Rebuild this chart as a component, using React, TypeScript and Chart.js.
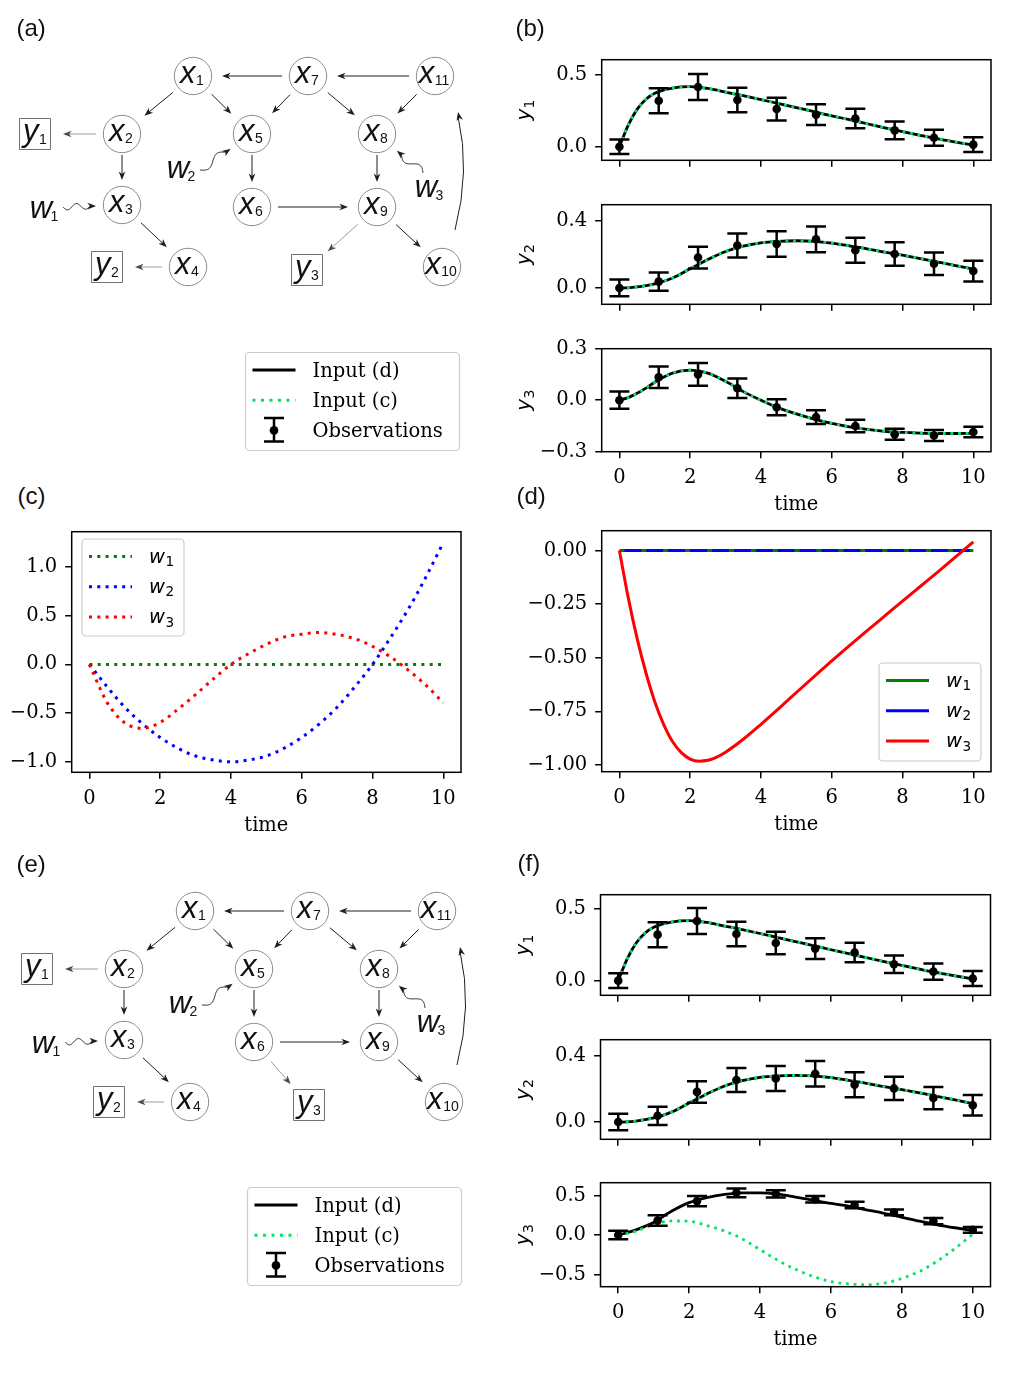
import React, { useEffect, useRef } from 'react';
import { Chart, registerables } from 'chart.js';

Chart.register(...registerables);

/* ---------------- observations and fitted outputs ---------------- */
const obsTime = [0, 1.111, 2.222, 3.333, 4.444, 5.556, 6.667, 7.778, 8.889, 10];
const fitTime = [0, 0.25, 0.5, 0.75, 1, 1.5, 2, 2.5, 3, 3.5, 4, 4.5, 5, 5.5, 6, 6.5, 7, 7.5, 8, 8.5, 9, 9.5, 10];

const y1Obs = [0.0, 0.32, 0.415, 0.325, 0.262, 0.223, 0.196, 0.114, 0.063, 0.015];
const y1Err = [0.051, 0.087, 0.09, 0.085, 0.079, 0.072, 0.068, 0.061, 0.056, 0.052];
const y1Fit = [0, 0.15, 0.26, 0.33, 0.372, 0.408, 0.418, 0.405, 0.38, 0.355, 0.328, 0.3, 0.272, 0.244, 0.215, 0.188, 0.16, 0.132, 0.106, 0.08, 0.055, 0.033, 0.012];

const y2Obs = [0.0, 0.038, 0.182, 0.254, 0.263, 0.291, 0.225, 0.203, 0.145, 0.101];
const y2Err = [0.05, 0.055, 0.065, 0.072, 0.076, 0.077, 0.075, 0.07, 0.067, 0.062];
const y2Fit = [0, 0.001, 0.006, 0.014, 0.025, 0.06, 0.115, 0.17, 0.218, 0.25, 0.27, 0.279, 0.282, 0.279, 0.268, 0.251, 0.234, 0.214, 0.196, 0.176, 0.155, 0.134, 0.112];

const y3Obs = [0.0, 0.134, 0.15, 0.07, -0.041, -0.098, -0.15, -0.199, -0.206, -0.185];
const y3Err = [0.05, 0.063, 0.066, 0.057, 0.047, 0.04, 0.036, 0.032, 0.032, 0.031];
const y3Fit = [0, 0.015, 0.04, 0.07, 0.105, 0.158, 0.175, 0.158, 0.11, 0.05, 0.0, -0.045, -0.08, -0.11, -0.135, -0.155, -0.17, -0.181, -0.188, -0.192, -0.194, -0.194, -0.193];

// y3 when it is read from x6 (second network)
const y3bObs = [0.0, 0.184, 0.43, 0.535, 0.522, 0.453, 0.38, 0.286, 0.176, 0.065];
const y3bErr = [0.053, 0.065, 0.065, 0.055, 0.045, 0.04, 0.04, 0.037, 0.04, 0.037];
const y3bInputD = [0, 0.03, 0.065, 0.11, 0.16, 0.3, 0.41, 0.475, 0.515, 0.535, 0.535, 0.518, 0.48, 0.44, 0.4, 0.365, 0.32, 0.275, 0.225, 0.175, 0.13, 0.092, 0.058];
const y3bInputC = [0, 0.02, 0.05, 0.09, 0.13, 0.178, 0.175, 0.12, 0.05, -0.05, -0.185, -0.32, -0.435, -0.525, -0.59, -0.62, -0.63, -0.61, -0.55, -0.46, -0.33, -0.17, 0.01];

/* ---------------- hidden inputs ---------------- */
const inputTime = [0, 0.5, 1, 1.5, 2, 2.5, 3, 3.5, 4, 4.5, 5, 5.5, 6, 6.5, 7, 7.5, 8, 8.5, 9, 9.5, 10];
const w1Input = [0, 0, 0, 0, 0, 0, 0, 0, 0, 0, 0, 0, 0, 0, 0, 0, 0, 0, 0, 0, 0];
const w2Input = [0, -0.23, -0.44, -0.61, -0.75, -0.86, -0.94, -0.98, -1.0, -0.98, -0.94, -0.86, -0.75, -0.61, -0.44, -0.23, 0.0, 0.27, 0.56, 0.89, 1.25];
const w3Input = [0, -0.39, -0.6, -0.655, -0.595, -0.46, -0.31, -0.15, 0.0, 0.11, 0.205, 0.28, 0.31, 0.327, 0.307, 0.263, 0.185, 0.078, -0.057, -0.21, -0.395];

const w1Est = [0, 0, 0, 0, 0, 0, 0, 0, 0, 0, 0, 0, 0, 0, 0, 0, 0, 0, 0, 0, 0];
const w2Est = [0, 0, 0, 0, 0, 0, 0, 0, 0, 0, 0, 0, 0, 0, 0, 0, 0, 0, 0, 0, 0];
const w3EstTime = [0, 0.25, 0.5, 0.75, 1, 1.25, 1.5, 1.75, 2, 2.25, 2.5, 2.75, 3, 3.5, 4, 4.5, 5, 5.5, 6, 6.5, 7, 7.5, 8, 8.5, 9, 9.5, 10];
const w3Est = [0, -0.22, -0.41, -0.57, -0.705, -0.81, -0.89, -0.942, -0.972, -0.982, -0.978, -0.963, -0.94, -0.88, -0.81, -0.737, -0.662, -0.588, -0.515, -0.444, -0.374, -0.305, -0.236, -0.168, -0.1, -0.03, 0.04];

const timeTicks = [0, 2, 4, 6, 8, 10];

/* ---------------- network layout ---------------- */
const stateLabels = ['1', '2', '3', '4', '5', '6', '7', '8', '9', '10', '11'];
const stateX = [193, 122, 122, 188, 252, 252, 308, 377, 377, 442, 435];
const stateY = [76, 134, 205, 267, 134, 207, 76, 134, 207, 267, 76];
const outputLabels = ['1', '2', '3'];
const outputX = [35, 107, 307];
const outputY = [134, 267, 270];
const noiseLabels = ['1', '2', '3'];
const noiseX = [44, 181, 429];
const noiseY = [209, 169, 188];
const noiseTargets = ['x3', 'x5', 'x8'];

const edgesA: [string, string][] = [
  ['x7', 'x1'], ['x11', 'x7'], ['x1', 'x2'], ['x1', 'x5'], ['x7', 'x5'], ['x7', 'x8'], ['x11', 'x8'],
  ['x2', 'x3'], ['x5', 'x6'], ['x8', 'x9'], ['x6', 'x9'], ['x3', 'x4'], ['x9', 'x10'],
  ['x2', 'y1'], ['x4', 'y2'], ['x9', 'y3'],
];
const edgesE: [string, string][] = [
  ['x7', 'x1'], ['x11', 'x7'], ['x1', 'x2'], ['x1', 'x5'], ['x7', 'x5'], ['x7', 'x8'], ['x11', 'x8'],
  ['x2', 'x3'], ['x5', 'x6'], ['x8', 'x9'], ['x6', 'x9'], ['x3', 'x4'], ['x9', 'x10'],
  ['x2', 'y1'], ['x4', 'y2'], ['x6', 'y3'],
];

/* ---------------- styling ---------------- */
const SPRING = '#00e466';
const SERIF = '"DejaVu Serif", serif';
const MATH = '"DejaVu Sans", sans-serif';
const SANS = '"Liberation Sans", Arial, sans-serif';

type Line = { x: number[]; y: number[]; color: string; width: number; dash?: number[]; dashOffset?: number; order: number };
type Row = { kind: 'line' | 'err'; color: string; width: number; dash?: number[]; text?: string; math?: [string, string] };
type Legend = { x: number; y: number; w: number; h: number; rows: Row[] };
type Spec = {
  box: [number, number, number, number];
  yMin: number; yMax: number; yTicks: number[]; yDec: number;
  xLabels: boolean; ySub?: string;
  lines: Line[];
  obs?: { x: number[]; y: number[]; err: number[] };
  legend?: Legend;
};

const obsRows: Row[] = [
  { kind: 'line', color: '#000', width: 3, text: 'Input (d)' },
  { kind: 'line', color: SPRING, width: 3, dash: [3, 5.5], text: 'Input (c)' },
  { kind: 'err', color: '#000', width: 2.5, text: 'Observations' },
];

const fitPair = (y: number[]): Line[] => [
  { x: fitTime, y, color: '#000', width: 2.8, order: 3 },
  { x: fitTime, y, color: SPRING, width: 2.8, dash: [2.8, 4.8], order: 2 },
];

const plotSpecs: Spec[] = [
  { box: [601.7, 56.7, 991, 163.3], yMin: -0.094, yMax: 0.605, yTicks: [0, 0.5], yDec: 1, xLabels: false, ySub: '1',
    lines: fitPair(y1Fit), obs: { x: obsTime, y: y1Obs, err: y1Err } },
  { box: [601.7, 201.7, 991, 307.3], yMin: -0.0975, yMax: 0.4975, yTicks: [0, 0.4], yDec: 1, xLabels: false, ySub: '2',
    lines: fitPair(y2Fit), obs: { x: obsTime, y: y2Obs, err: y2Err } },
  { box: [601.7, 345, 991, 451.7], yMin: -0.3, yMax: 0.3, yTicks: [-0.3, 0, 0.3], yDec: 1, xLabels: true, ySub: '3',
    lines: fitPair(y3Fit), obs: { x: obsTime, y: y3Obs, err: y3Err } },
  { box: [71.7, 528.3, 461, 772.3], yMin: -1.107, yMax: 1.361, yTicks: [-1, -0.5, 0, 0.5, 1], yDec: 1, xLabels: true,
    lines: [
      { x: inputTime, y: w1Input, color: '#008000', width: 3, dash: [3, 5.3], order: 3 },
      { x: inputTime, y: w2Input, color: '#0000ff', width: 3, dash: [3, 5.3], order: 2 },
      { x: inputTime, y: w3Input, color: '#ff0000', width: 3, dash: [3, 5.3], order: 1 },
    ],
    legend: { x: 82, y: 539, w: 102, h: 97, rows: [
      { kind: 'line', color: '#008000', width: 3, dash: [3, 5.3], math: ['w', '1'] },
      { kind: 'line', color: '#0000ff', width: 3, dash: [3, 5.3], math: ['w', '2'] },
      { kind: 'line', color: '#ff0000', width: 3, dash: [3, 5.3], math: ['w', '3'] },
    ] } },
  { box: [601.7, 527.7, 991, 771.7], yMin: -1.031, yMax: 0.092, yTicks: [-1, -0.75, -0.5, -0.25, 0], yDec: 2, xLabels: true,
    lines: [
      { x: inputTime, y: w1Est, color: '#008000', width: 3, order: 3 },
      { x: inputTime, y: w2Est, color: '#0000ff', width: 3, dash: [16.9, 5], dashOffset: 16.9, order: 2 },
      { x: w3EstTime, y: w3Est, color: '#ff0000', width: 3, order: 1 },
    ],
    legend: { x: 879, y: 663, w: 102, h: 98, rows: [
      { kind: 'line', color: '#008000', width: 3, math: ['w', '1'] },
      { kind: 'line', color: '#0000ff', width: 3, math: ['w', '2'] },
      { kind: 'line', color: '#ff0000', width: 3, math: ['w', '3'] },
    ] } },
  { box: [600.5, 891.7, 990.5, 999], yMin: -0.102, yMax: 0.598, yTicks: [0, 0.5], yDec: 1, xLabels: false, ySub: '1',
    lines: fitPair(y1Fit), obs: { x: obsTime, y: y1Obs, err: y1Err } },
  { box: [600.5, 1036, 990.5, 1142.7], yMin: -0.104, yMax: 0.497, yTicks: [0, 0.4], yDec: 1, xLabels: false, ySub: '2',
    lines: fitPair(y2Fit), obs: { x: obsTime, y: y2Obs, err: y2Err } },
  { box: [600.5, 1179, 990.5, 1286.7], yMin: -0.655, yMax: 0.663, yTicks: [-0.5, 0, 0.5], yDec: 1, xLabels: true, ySub: '3',
    lines: [
      { x: fitTime, y: y3bInputD, color: '#000', width: 2.8, order: 3 },
      { x: fitTime, y: y3bInputC, color: SPRING, width: 2.8, dash: [2.8, 4.8], order: 2 },
    ],
    obs: { x: obsTime, y: y3bObs, err: y3bErr } },
];

const panelTags: [string, number, number][] = [
  ['(a)', 16.5, 15.5], ['(b)', 515.5, 15.5], ['(c)', 17.5, 484], ['(d)', 516.5, 484], ['(e)', 16.5, 852], ['(f)', 517.5, 850.5],
];

/* ---------------- drawing helpers ---------------- */
function fmt(v: number, d: number) {
  const a = Math.abs(v) < 1e-9 ? 0 : v;
  const s = Math.abs(a).toFixed(d);
  return a < 0 ? '\u2212' + s : s;
}

function drawMath(ctx: CanvasRenderingContext2D, base: string, sub: string, x: number, baseline: number,
  fb: string, fs: string, drop: number, gap: number, align: 'center' | 'left') {
  ctx.font = fb;
  const wb = ctx.measureText(base).width;
  ctx.font = fs;
  const ws = ctx.measureText(sub).width;
  const total = wb + gap + ws;
  const x0 = align === 'center' ? x - total / 2 : x;
  ctx.textAlign = 'left';
  ctx.textBaseline = 'alphabetic';
  ctx.font = fb;
  ctx.fillText(base, x0, baseline);
  ctx.font = fs;
  ctx.fillText(sub, x0 + wb + gap, baseline + drop);
}

function drawErrorGlyph(ctx: CanvasRenderingContext2D, px: number, top: number, bot: number, cap: number, w: number) {
  ctx.lineWidth = w;
  ctx.beginPath();
  ctx.moveTo(px, top); ctx.lineTo(px, bot);
  ctx.moveTo(px - cap, top); ctx.lineTo(px + cap, top);
  ctx.moveTo(px - cap, bot); ctx.lineTo(px + cap, bot);
  ctx.stroke();
}

function drawLegend(ctx: CanvasRenderingContext2D, lg: Legend, ox: number, oy: number) {
  const x = lg.x - ox, y = lg.y - oy;
  ctx.save();
  ctx.beginPath();
  if ((ctx as any).roundRect) (ctx as any).roundRect(x, y, lg.w, lg.h, 4); else ctx.rect(x, y, lg.w, lg.h);
  ctx.fillStyle = 'rgba(255,255,255,0.8)';
  ctx.fill();
  ctx.strokeStyle = '#cccccc';
  ctx.lineWidth = 1.2;
  ctx.stroke();
  lg.rows.forEach((row, i) => {
    const cy = y + 17.5 + i * 30.2;
    const h0 = x + 7, h1 = x + 50, hc = (h0 + h1) / 2;
    ctx.strokeStyle = row.color;
    ctx.lineCap = 'butt';
    if (row.kind === 'line') {
      ctx.setLineDash(row.dash || []);
      ctx.lineWidth = row.width;
      ctx.beginPath(); ctx.moveTo(h0, cy); ctx.lineTo(h1, cy); ctx.stroke();
      ctx.setLineDash([]);
    } else {
      drawErrorGlyph(ctx, hc, cy - 12.5, cy + 11, 10, row.width);
      ctx.fillStyle = row.color;
      ctx.beginPath(); ctx.arc(hc, cy, 4.3, 0, Math.PI * 2); ctx.fill();
    }
    ctx.fillStyle = '#000';
    if (row.math) {
      drawMath(ctx, row.math[0], row.math[1], x + 67, cy + 6.5, `italic 19.5px ${MATH}`, `13.6px ${MATH}`, 3.2, 0.5, 'left');
    } else if (row.text) {
      ctx.font = `19.5px ${SERIF}`;
      ctx.textAlign = 'left';
      ctx.textBaseline = 'alphabetic';
      ctx.fillText(row.text, x + 67, cy + 7);
    }
  });
  ctx.restore();
}

function arrowHead(ctx: CanvasRenderingContext2D, x: number, y: number, ux: number, uy: number, color: string) {
  const L = 8.5, H = 3.3;
  const nx = -uy, ny = ux;
  const bx = x - ux * L, by = y - uy * L;
  ctx.fillStyle = color;
  ctx.beginPath();
  ctx.moveTo(x, y);
  ctx.lineTo(bx + nx * H, by + ny * H);
  ctx.lineTo(x - ux * L * 0.72, y - uy * L * 0.72);
  ctx.lineTo(bx - nx * H, by - ny * H);
  ctx.closePath();
  ctx.fill();
}

/* ---------------- line panels ---------------- */
type Geom = { left: number; top: number; w: number; h: number };

function plotGeom(s: Spec): Geom {
  const [l, t, r, b] = s.box;
  const left = Math.max(0, Math.floor(l - 100));
  const top = Math.floor(t - 16);
  const right = Math.ceil(r + 14);
  const bottom = Math.ceil(b + (s.xLabels ? 66 : 16));
  return { left, top, w: right - left, h: bottom - top };
}

function buildPlot(canvas: HTMLCanvasElement, s: Spec, g: Geom) {
  const [l, t, r, b] = s.box;
  const datasets: any[] = s.lines.map((ln) => ({
    data: ln.x.map((x, i) => ({ x, y: ln.y[i] })),
    borderColor: ln.color,
    borderWidth: ln.width,
    borderDash: ln.dash || [],
    borderDashOffset: ln.dashOffset || 0,
    borderCapStyle: 'butt',
    borderJoinStyle: 'round',
    pointRadius: 0,
    fill: false,
    cubicInterpolationMode: 'monotone',
    order: ln.order,
  }));
  if (s.obs) {
    const o = s.obs;
    datasets.push({
      data: o.x.map((x, i) => ({ x, y: o.y[i] })),
      errors: o.err,
      showLine: false,
      pointRadius: 4.3,
      pointBackgroundColor: '#000',
      pointBorderColor: '#000',
      pointBorderWidth: 0,
      order: 1,
    });
  }
  const tickFont = { family: SERIF, size: 19.5 };
  const decor = {
    id: 'panelDecor',
    beforeDatasetDraw(chart: any, args: any) {
      const ds = chart.data.datasets[args.index];
      if (!ds.errors) return;
      const ctx = chart.ctx, xs = chart.scales.x, ys = chart.scales.y;
      ctx.save();
      ctx.strokeStyle = '#000';
      ctx.lineCap = 'butt';
      ds.data.forEach((p: any, i: number) => {
        const e = ds.errors[i];
        drawErrorGlyph(ctx, xs.getPixelForValue(p.x), ys.getPixelForValue(p.y + e), ys.getPixelForValue(p.y - e), 10, 2.5);
      });
      ctx.restore();
    },
    afterDatasetsDraw(chart: any) {
      const ctx = chart.ctx, a = chart.chartArea;
      ctx.save();
      ctx.strokeStyle = '#000';
      ctx.lineWidth = 1.5;
      ctx.strokeRect(a.left, a.top, a.right - a.left, a.bottom - a.top);
      ctx.fillStyle = '#000';
      if (s.ySub) {
        ctx.save();
        ctx.translate(a.left - 71.5, (a.top + a.bottom) / 2);
        ctx.rotate(-Math.PI / 2);
        drawMath(ctx, 'y', s.ySub, 0, 0, `italic 20px ${MATH}`, `14px ${MATH}`, 3.5, 0.3, 'center');
        ctx.restore();
      }
      if (s.xLabels) {
        ctx.font = `19.5px ${SERIF}`;
        ctx.textAlign = 'center';
        ctx.textBaseline = 'alphabetic';
        ctx.fillText('time', (a.left + a.right) / 2, a.bottom + 58.3);
      }
      ctx.restore();
      if (s.legend) drawLegend(ctx, s.legend, g.left, g.top);
    },
  };
  return new Chart(canvas, {
    type: 'line',
    data: { datasets },
    options: {
      responsive: false,
      animation: false,
      devicePixelRatio: 1,
      events: [],
      layout: { autoPadding: false, padding: { left: 0, top: t - g.top, right: g.left + g.w - r, bottom: 0 } },
      plugins: { legend: { display: false }, tooltip: { enabled: false } },
      scales: {
        x: {
          type: 'linear', min: -0.5, max: 10.5,
          afterFit: (sc: any) => { sc.height = g.top + g.h - b; },
          afterBuildTicks: (sc: any) => { sc.ticks = timeTicks.map((v) => ({ value: v })); },
          grid: { display: true, drawOnChartArea: false, drawTicks: true, tickLength: 6.5, lineWidth: 1.5, tickWidth: 1.5, color: '#000', tickColor: '#000' },
          border: { display: false },
          ticks: { font: tickFont, color: '#000', padding: 8.5, maxRotation: 0, minRotation: 0, autoSkip: false,
            callback: (v: any) => (s.xLabels ? String(v) : '') },
        },
        y: {
          type: 'linear', min: s.yMin, max: s.yMax,
          afterFit: (sc: any) => { sc.width = l - g.left; },
          afterBuildTicks: (sc: any) => { sc.ticks = s.yTicks.map((v) => ({ value: v })); },
          grid: { display: true, drawOnChartArea: false, drawTicks: true, tickLength: 6.5, lineWidth: 1.5, tickWidth: 1.5, color: '#000', tickColor: '#000' },
          border: { display: false },
          ticks: { font: tickFont, color: '#000', padding: 8, autoSkip: false, callback: (v: any) => fmt(Number(v), s.yDec) },
        },
      },
    } as any,
    plugins: [decor as any],
  });
}

function PlotPanel({ spec }: { spec: Spec }) {
  const ref = useRef<HTMLCanvasElement>(null);
  const g = plotGeom(spec);
  useEffect(() => {
    const chart = buildPlot(ref.current as HTMLCanvasElement, spec, g);
    return () => chart.destroy();
  }, []);
  return <canvas ref={ref} width={g.w} height={g.h} style={{ position: 'absolute', left: g.left, top: g.top, width: g.w, height: g.h }} />;
}

/* ---------------- network panels ---------------- */
const GW = 490;
const GH = 460;

function nodeAt(name: string): [number, number] {
  const k = parseInt(name.slice(1), 10) - 1;
  if (name[0] === 'x') return [stateX[k], stateY[k]];
  if (name[0] === 'y') return [outputX[k], outputY[k]];
  return [noiseX[k], noiseY[k]];
}

const noiseStart: [number, number][] = [[19, -2], [19, 1], [-6, -15]];
const noiseWave: [number, number][] = [[3, 1.5], [4, 1], [4, 1]];

function graphDecor(edges: [string, string][]) {
  return {
    id: 'graphDecor',
    beforeDatasetsDraw(chart: any) {
      const ctx: CanvasRenderingContext2D = chart.ctx;
      const xs = chart.scales.x, ys = chart.scales.y;
      const P = (n: string): [number, number] => { const p = nodeAt(n); return [xs.getPixelForValue(p[0]), ys.getPixelForValue(p[1])]; };
      ctx.save();
      ctx.lineWidth = 1;
      edges.forEach(([from, to]) => {
        const [x0, y0] = P(from), [x1, y1] = P(to);
        const dx = x1 - x0, dy = y1 - y0, len = Math.hypot(dx, dy);
        const ux = dx / len, uy = dy / len;
        const vertical = Math.abs(dx) < 2;
        const toOut = to[0] === 'y';
        const g0 = vertical ? 21 : 26;
        const g1 = vertical ? 25 : toOut ? 28 : 29;
        const sx = x0 + ux * g0, sy = y0 + uy * g0, ex = x1 - ux * g1, ey = y1 - uy * g1;
        ctx.strokeStyle = toOut ? '#9c9c9c' : '#1e1e1e';
        ctx.beginPath(); ctx.moveTo(sx, sy); ctx.lineTo(ex - ux * 6, ey - uy * 6); ctx.stroke();
        arrowHead(ctx, ex, ey, ux, uy, toOut ? '#4a4a4a' : '#1e1e1e');
      });
      // feedback from x10 up to x11
      {
        const [ax, ay] = P('x10'), [bx, by] = P('x11');
        const sx = ax + 13, sy = ay - 37, ex = bx + 23, ey = by + 36;
        const cx = (sx + ex) / 2 + 14, cy = (sy + ey) / 2;
        ctx.strokeStyle = '#1e1e1e';
        ctx.beginPath(); ctx.moveTo(sx, sy); ctx.quadraticCurveTo(cx, cy, ex, ey + 4); ctx.stroke();
        const dl = Math.hypot(ex - cx, ey - cy);
        arrowHead(ctx, ex, ey, (ex - cx) / dl, (ey - cy) / dl, '#1e1e1e');
      }
      // wavy disturbance inputs
      noiseTargets.forEach((target, i) => {
        const [wx, wy] = P('w' + (i + 1));
        const sx = wx + noiseStart[i][0], sy = wy + noiseStart[i][1];
        const [nx0, ny0] = P(target);
        let dx = sx - nx0, dy = sy - ny0, d = Math.hypot(dx, dy);
        const ex = nx0 + (dx / d) * 26, ey = ny0 + (dy / d) * 26;
        dx = ex - sx; dy = ey - sy; d = Math.hypot(dx, dy);
        const ux = dx / d, uy = dy / d, px = -uy, py = ux;
        const [amp, cyc] = noiseWave[i];
        const endT = (d - 6) / d;
        ctx.strokeStyle = '#1e1e1e';
        ctx.beginPath();
        for (let k = 0; k <= 60; k++) {
          const tt = (k / 60) * endT;
          const off = amp * Math.sin(2 * Math.PI * cyc * (k / 60));
          const x = sx + dx * tt + px * off, y = sy + dy * tt + py * off;
          if (k === 0) ctx.moveTo(x, y); else ctx.lineTo(x, y);
        }
        ctx.stroke();
        arrowHead(ctx, ex, ey, ux, uy, '#1e1e1e');
      });
      ctx.restore();
    },
    afterDatasetsDraw(chart: any) {
      const ctx: CanvasRenderingContext2D = chart.ctx;
      const xs = chart.scales.x, ys = chart.scales.y;
      ctx.save();
      ctx.fillStyle = '#111';
      stateX.forEach((x, i) => {
        drawMath(ctx, 'x', stateLabels[i], xs.getPixelForValue(x) - 1, ys.getPixelForValue(stateY[i]) + 6.5,
          `italic 31px ${SANS}`, `14px ${SANS}`, 2.5, 0.5, 'center');
      });
      outputX.forEach((x, i) => {
        drawMath(ctx, 'y', outputLabels[i], xs.getPixelForValue(x), ys.getPixelForValue(outputY[i]) + 7,
          `italic 31px ${SANS}`, `14px ${SANS}`, 3, 0.5, 'center');
      });
      noiseX.forEach((x, i) => {
        drawMath(ctx, 'w', noiseLabels[i], xs.getPixelForValue(x), ys.getPixelForValue(noiseY[i]) + 9,
          `italic 31px ${SANS}`, `14px ${SANS}`, 3, -1.5, 'center');
      });
      ctx.restore();
      drawLegend(ctx, { x: 245.5, y: 352.5, w: 214, h: 98, rows: obsRows }, 0, 0);
    },
  };
}

function GraphPanel({ left, top, edges }: { left: number; top: number; edges: [string, string][] }) {
  const ref = useRef<HTMLCanvasElement>(null);
  useEffect(() => {
    const chart = new Chart(ref.current as HTMLCanvasElement, {
      type: 'scatter',
      data: {
        datasets: [
          { data: stateX.map((x, i) => ({ x, y: stateY[i] })), pointStyle: 'circle', pointRadius: 18.7,
            pointBackgroundColor: '#fff', pointBorderColor: '#8c8c8c', pointBorderWidth: 1, clip: false },
          { data: outputX.map((x, i) => ({ x, y: outputY[i] })), pointStyle: 'rect', pointRadius: 21.9,
            pointBackgroundColor: '#fff', pointBorderColor: '#707070', pointBorderWidth: 1, clip: false },
          { data: noiseX.map((x, i) => ({ x, y: noiseY[i] })), pointRadius: 0, clip: false },
        ],
      },
      options: {
        responsive: false,
        animation: false,
        devicePixelRatio: 1,
        events: [],
        layout: { autoPadding: false, padding: 0 },
        plugins: { legend: { display: false }, tooltip: { enabled: false } },
        scales: {
          x: { type: 'linear', min: 0, max: GW, display: false },
          y: { type: 'linear', min: 0, max: GH, reverse: true, display: false },
        },
      } as any,
      plugins: [graphDecor(edges) as any],
    });
    return () => chart.destroy();
  }, []);
  return <canvas ref={ref} width={GW} height={GH} style={{ position: 'absolute', left, top, width: GW, height: GH }} />;
}

export default function App() {
  return (
    <div style={{ position: 'absolute', left: 0, top: 0, width: 1016, height: 1400, background: '#fff', overflow: 'hidden' }}>
      <GraphPanel left={0} top={0} edges={edgesA} />
      <GraphPanel left={2} top={835} edges={edgesE} />
      {plotSpecs.map((s, i) => <PlotPanel key={i} spec={s} />)}
      {panelTags.map(([t, x, y]) => (
        <div key={t} style={{ position: 'absolute', left: x, top: y, fontFamily: SANS, fontSize: 24, lineHeight: '24px', color: '#111' }}>{t}</div>
      ))}
    </div>
  );
}
